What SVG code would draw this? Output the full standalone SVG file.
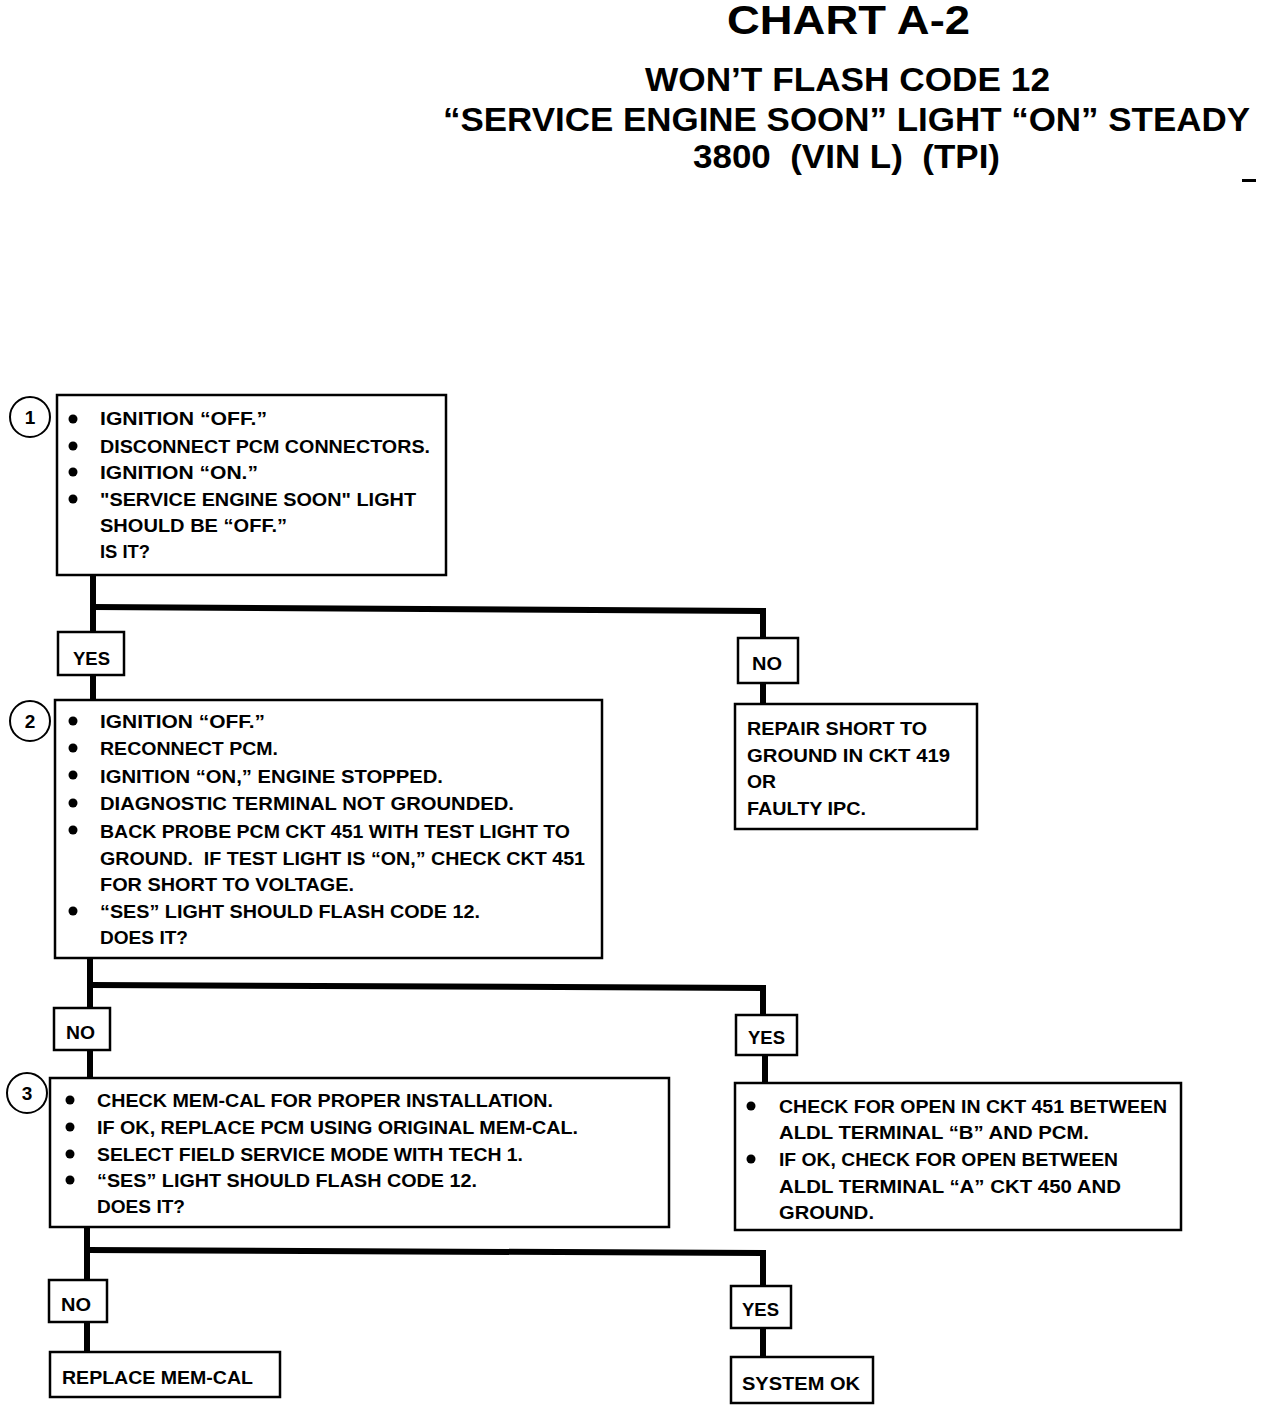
<svg xmlns="http://www.w3.org/2000/svg" width="1264" height="1406" viewBox="0 0 1264 1406">
<style>
.t{font-family:"Liberation Sans",Arial,sans-serif;font-weight:bold;font-size:19px;fill:#000}
.h{font-family:"Liberation Sans",Arial,sans-serif;font-weight:bold;fill:#000;white-space:pre}
.box{fill:#fff;stroke:#000;stroke-width:2.5}
.lab{fill:#fff;stroke:#000;stroke-width:2.5}
.wire{fill:none;stroke:#000;stroke-width:6;stroke-linejoin:miter}
.num{fill:#fff;stroke:#000;stroke-width:2}
</style>
<rect width="1264" height="1406" fill="#fff"/>
<g id="title">
<text class="h" x="727" y="34" font-size="40" textLength="243" lengthAdjust="spacingAndGlyphs">CHART A-2</text>
<text class="h" x="645" y="91" font-size="34" textLength="405" lengthAdjust="spacingAndGlyphs">WON’T FLASH CODE 12</text>
<text class="h" x="443" y="131" font-size="34" textLength="807" lengthAdjust="spacingAndGlyphs">“SERVICE ENGINE SOON” LIGHT “ON” STEADY</text>
<text class="h" x="693" y="168" font-size="34" textLength="307" lengthAdjust="spacingAndGlyphs">3800  (VIN L)  (TPI)</text>
<rect x="1242" y="179" width="14" height="3" fill="#000"/>
</g>
<g id="connectors">
<line class="wire" x1="93" y1="575" x2="93" y2="700"/>
<polyline class="wire" points="93,607 763,611 763,640"/>
<line class="wire" x1="763" y1="683" x2="763" y2="704"/>
<line class="wire" x1="90" y1="958" x2="90" y2="1077"/>
<polyline class="wire" points="90,985 763,988 763,1016"/>
<line class="wire" x1="765" y1="1055" x2="765" y2="1083"/>
<line class="wire" x1="87" y1="1227" x2="87" y2="1352"/>
<polyline class="wire" points="87,1250 763,1253 763,1286"/>
<line class="wire" x1="763" y1="1328" x2="763" y2="1357"/>
</g>
<g id="step1">
<circle class="num" cx="30" cy="417" r="20"/>
<text class="t" x="30" y="424" text-anchor="middle">1</text>
<rect class="box" x="57" y="395" width="389" height="180"/>
<circle cx="73" cy="419" r="4.5"/><circle cx="73" cy="446" r="4.5"/><circle cx="73" cy="472" r="4.5"/><circle cx="73" cy="499" r="4.5"/>
<text class="t" x="100" y="425" textLength="167" lengthAdjust="spacingAndGlyphs">IGNITION “OFF.”</text>
<text class="t" x="100" y="453" textLength="330" lengthAdjust="spacingAndGlyphs">DISCONNECT PCM CONNECTORS.</text>
<text class="t" x="100" y="479" textLength="158" lengthAdjust="spacingAndGlyphs">IGNITION “ON.”</text>
<text class="t" x="100" y="506" textLength="316" lengthAdjust="spacingAndGlyphs">"SERVICE ENGINE SOON" LIGHT</text>
<text class="t" x="100" y="532" textLength="187" lengthAdjust="spacingAndGlyphs">SHOULD BE “OFF.”</text>
<text class="t" x="100" y="558" textLength="50" lengthAdjust="spacingAndGlyphs">IS IT?</text>
</g>
<g id="yes1">
<rect class="lab" x="58" y="632" width="66" height="43"/>
<text class="t" x="73" y="665" font-size="17" textLength="37" lengthAdjust="spacingAndGlyphs">YES</text>
</g>
<g id="no1">
<rect class="lab" x="738" y="638" width="60" height="45"/>
<text class="t" x="752" y="670" font-size="17" textLength="30" lengthAdjust="spacingAndGlyphs">NO</text>
</g>
<g id="repair">
<rect class="box" x="735" y="704" width="242" height="125"/>
<text class="t" x="747" y="735" textLength="180" lengthAdjust="spacingAndGlyphs">REPAIR SHORT TO</text>
<text class="t" x="747" y="762" textLength="203" lengthAdjust="spacingAndGlyphs">GROUND IN CKT 419</text>
<text class="t" x="747" y="788" textLength="29" lengthAdjust="spacingAndGlyphs">OR</text>
<text class="t" x="747" y="815" textLength="119" lengthAdjust="spacingAndGlyphs">FAULTY IPC.</text>
</g>
<g id="step2">
<circle class="num" cx="30" cy="721" r="20"/>
<text class="t" x="30" y="728" text-anchor="middle">2</text>
<rect class="box" x="55" y="700" width="547" height="258"/>
<circle cx="73" cy="721" r="4.5"/><circle cx="73" cy="748" r="4.5"/><circle cx="73" cy="775" r="4.5"/><circle cx="73" cy="803" r="4.5"/><circle cx="73" cy="830" r="4.5"/><circle cx="73" cy="911" r="4.5"/>
<text class="t" x="100" y="728" textLength="165" lengthAdjust="spacingAndGlyphs">IGNITION “OFF.”</text>
<text class="t" x="100" y="755" textLength="178" lengthAdjust="spacingAndGlyphs">RECONNECT PCM.</text>
<text class="t" x="100" y="783" textLength="343" lengthAdjust="spacingAndGlyphs">IGNITION “ON,” ENGINE STOPPED.</text>
<text class="t" x="100" y="810" textLength="414" lengthAdjust="spacingAndGlyphs">DIAGNOSTIC TERMINAL NOT GROUNDED.</text>
<text class="t" x="100" y="838" textLength="470" lengthAdjust="spacingAndGlyphs">BACK PROBE PCM CKT 451 WITH TEST LIGHT TO</text>
<text class="t" x="100" y="865" textLength="485" lengthAdjust="spacingAndGlyphs" style="white-space:pre">GROUND.  IF TEST LIGHT IS “ON,” CHECK CKT 451</text>
<text class="t" x="100" y="891" textLength="254" lengthAdjust="spacingAndGlyphs">FOR SHORT TO VOLTAGE.</text>
<text class="t" x="100" y="918" textLength="380" lengthAdjust="spacingAndGlyphs">“SES” LIGHT SHOULD FLASH CODE 12.</text>
<text class="t" x="100" y="944" textLength="88" lengthAdjust="spacingAndGlyphs">DOES IT?</text>
</g>
<g id="no2">
<rect class="lab" x="54" y="1008" width="56" height="42"/>
<text class="t" x="66" y="1039" font-size="17" textLength="29" lengthAdjust="spacingAndGlyphs">NO</text>
</g>
<g id="yes2">
<rect class="lab" x="736" y="1015" width="61" height="40"/>
<text class="t" x="748" y="1044" font-size="17" textLength="37" lengthAdjust="spacingAndGlyphs">YES</text>
</g>
<g id="step3">
<circle class="num" cx="27" cy="1093" r="20"/>
<text class="t" x="27" y="1100" text-anchor="middle">3</text>
<rect class="box" x="50" y="1078" width="619" height="149"/>
<circle cx="70" cy="1100" r="4.5"/><circle cx="70" cy="1127" r="4.5"/><circle cx="70" cy="1154" r="4.5"/><circle cx="70" cy="1180" r="4.5"/>
<text class="t" x="97" y="1107" textLength="456" lengthAdjust="spacingAndGlyphs">CHECK MEM-CAL FOR PROPER INSTALLATION.</text>
<text class="t" x="97" y="1134" textLength="481" lengthAdjust="spacingAndGlyphs">IF OK, REPLACE PCM USING ORIGINAL MEM-CAL.</text>
<text class="t" x="97" y="1161" textLength="426" lengthAdjust="spacingAndGlyphs">SELECT FIELD SERVICE MODE WITH TECH 1.</text>
<text class="t" x="97" y="1187" textLength="380" lengthAdjust="spacingAndGlyphs">“SES” LIGHT SHOULD FLASH CODE 12.</text>
<text class="t" x="97" y="1213" textLength="88" lengthAdjust="spacingAndGlyphs">DOES IT?</text>
</g>
<g id="checkopen">
<rect class="box" x="735" y="1083" width="446" height="147"/>
<circle cx="751" cy="1106" r="4.5"/><circle cx="751" cy="1159" r="4.5"/>
<text class="t" x="779" y="1113" textLength="388" lengthAdjust="spacingAndGlyphs">CHECK FOR OPEN IN CKT 451 BETWEEN</text>
<text class="t" x="779" y="1139" textLength="310" lengthAdjust="spacingAndGlyphs">ALDL TERMINAL “B” AND PCM.</text>
<text class="t" x="779" y="1166" textLength="339" lengthAdjust="spacingAndGlyphs">IF OK, CHECK FOR OPEN BETWEEN</text>
<text class="t" x="779" y="1193" textLength="342" lengthAdjust="spacingAndGlyphs">ALDL TERMINAL “A” CKT 450 AND</text>
<text class="t" x="779" y="1219" textLength="95" lengthAdjust="spacingAndGlyphs">GROUND.</text>
</g>
<g id="no3">
<rect class="lab" x="49" y="1280" width="58" height="42"/>
<text class="t" x="61" y="1311" font-size="17" textLength="30" lengthAdjust="spacingAndGlyphs">NO</text>
</g>
<g id="yes3">
<rect class="lab" x="731" y="1286" width="60" height="42"/>
<text class="t" x="742" y="1316" font-size="17" textLength="37" lengthAdjust="spacingAndGlyphs">YES</text>
</g>
<g id="replace">
<rect class="box" x="50" y="1352" width="230" height="45"/>
<text class="t" x="62" y="1384" textLength="191" lengthAdjust="spacingAndGlyphs">REPLACE MEM-CAL</text>
</g>
<g id="systemok">
<rect class="box" x="731" y="1357" width="142" height="46"/>
<text class="t" x="742" y="1390" textLength="118" lengthAdjust="spacingAndGlyphs">SYSTEM OK</text>
</g>
</svg>
